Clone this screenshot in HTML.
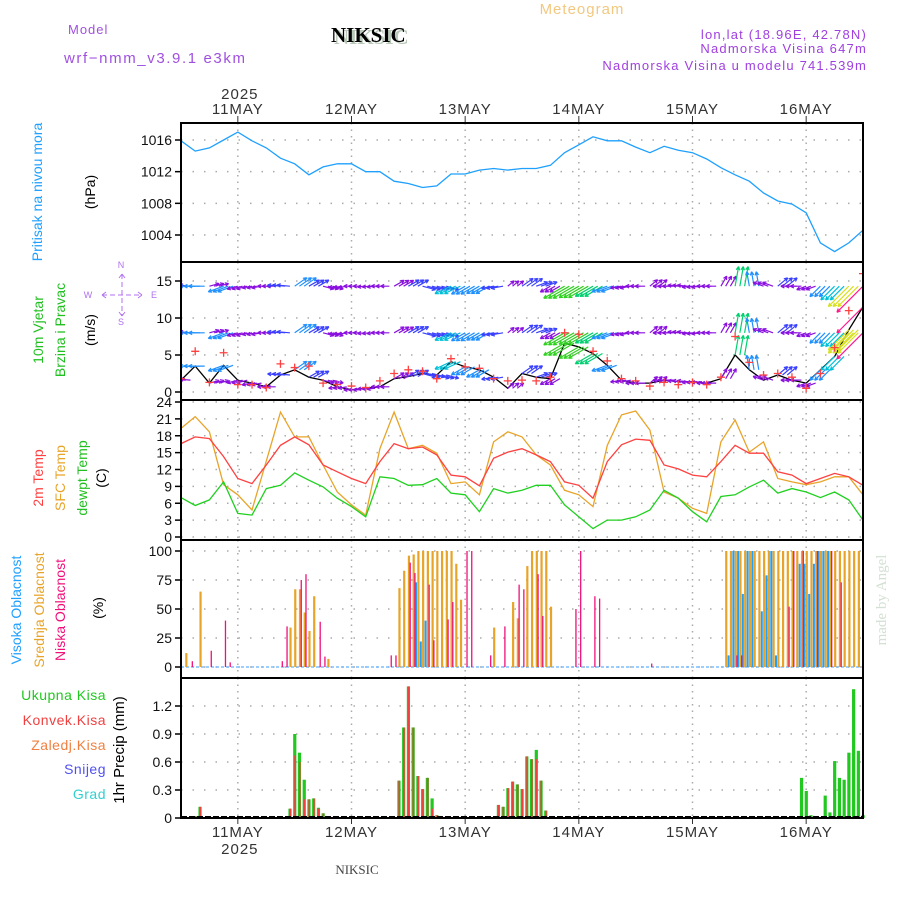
<!DOCTYPE html>
<html><head><meta charset="utf-8">
<style>
html,body{margin:0;padding:0;background:#fff;}
svg{display:block;font-family:"Liberation Sans",sans-serif;}
</style></head>
<body>
<svg id="chart" width="900" height="900" viewBox="0 0 900 900" xmlns="http://www.w3.org/2000/svg">
<rect x="0" y="0" width="900" height="900" fill="#fff"/>
<defs>
<clipPath id="clipWind"><rect x="181" y="263" width="682" height="136"/></clipPath>
</defs>
<text x="582" y="14" fill="#f2c880" font-size="15" text-anchor="middle" letter-spacing="1">Meteogram</text>
<text x="68" y="34" fill="#a050e0" font-size="13" letter-spacing="1">Model</text>
<text x="64" y="63" fill="#a050e0" font-size="15" letter-spacing="1.6">wrf−nmm_v3.9.1 e3km</text>
<text x="334" y="44" fill="#b8c8b8" font-size="21" font-weight="bold" font-family="Liberation Serif, serif">NIKSIC</text>
<text x="331" y="42" fill="#000" font-size="21" font-weight="bold" font-family="Liberation Serif, serif">NIKSIC</text>
<text x="867" y="39" fill="#a040e0" font-size="13" text-anchor="end" letter-spacing="1.2">lon,lat (18.96E, 42.78N)</text>
<text x="867" y="53" fill="#a040e0" font-size="13" text-anchor="end" letter-spacing="1.2">Nadmorska Visina 647m</text>
<text x="867" y="70" fill="#a040e0" font-size="13" text-anchor="end" letter-spacing="1.2">Nadmorska Visina u modelu 741.539m</text>
<text x="357" y="874" fill="#444" font-size="13" text-anchor="middle" font-family="Liberation Serif, serif">NIKSIC</text>
<text transform="translate(886,600) rotate(-90)" fill="#d4e0d4" font-size="15" text-anchor="middle" font-family="Liberation Serif, serif">made by Angel</text>
<g id="g"></g>
</svg>
<script>
// ---------- DATA ----------
const dayLabels = ["11MAY","12MAY","13MAY","14MAY","15MAY","16MAY"];
const dayHours = [12,36,60,84,108,132];
const pressure = [1015.9,1014.6,1015.0,1016.0,1017.0,1015.9,1015.0,1013.7,1013.0,1011.6,1012.6,1013.0,1013.0,1012.0,1012.0,1010.8,1010.5,1010.0,1010.2,1011.7,1011.7,1012.2,1012.4,1012.2,1012.4,1012.4,1012.8,1014.4,1015.4,1016.4,1015.9,1015.9,1015.1,1014.4,1015.2,1014.7,1014.4,1013.6,1012.5,1011.6,1010.8,1009.3,1008.3,1007.9,1006.8,1003.0,1001.9,1003.0,1004.6];
const temp2m = [16.6,17.8,17.5,14.3,10.4,9.5,12.8,16.3,17.8,16.4,12.8,11.6,10.4,9.5,13.4,16.6,15.7,16.0,14.6,11.0,10.7,9.1,14.0,15.1,15.7,14.6,13.4,9.8,9.2,6.9,13.4,16.4,17.4,17.2,12.8,12.1,11.0,10.7,13.4,16.3,14.9,14.9,11.6,11.0,9.5,10.4,11.3,10.7,9.2];
const tempSfc = [19.3,21.4,18.7,9.3,7.5,4.8,13.5,22.2,17.8,17.8,12.8,8.0,5.7,3.9,15.7,22.2,15.7,16.3,14.9,9.5,9.8,7.5,16.9,18.7,17.8,14.6,12.8,8.3,7.5,5.4,16.3,21.7,22.4,19.0,8.0,6.9,5.1,4.2,16.9,20.8,15.1,16.9,10.4,9.8,9.3,9.8,10.7,10.7,7.5];
const dewpt = [7.0,5.6,6.6,9.8,4.2,3.9,8.6,9.2,11.4,10.1,8.9,6.9,5.4,3.6,10.7,10.4,9.2,9.3,10.4,7.8,7.5,4.5,8.6,7.8,8.3,9.2,9.2,5.7,3.6,1.5,3.0,3.0,3.6,4.8,8.3,6.9,4.5,2.7,7.2,7.5,8.9,10.1,7.8,8.6,8.0,7.0,8.0,6.6,3.0];
const windSpeed = [1.6,3.5,1.2,3.6,1.6,1.2,0.7,2.3,3.0,2.0,1.6,0.7,0.3,0.5,0.7,1.8,2.1,2.5,2.3,4.1,3.4,3.0,2.0,0.5,2.5,2.0,1.8,6.6,6.1,5.2,3.6,1.6,1.2,1.2,1.6,1.4,1.4,1.2,1.8,5.0,3.0,1.6,2.3,1.6,1.2,3.0,4.8,8.4,11.5];
const windGust = [1.8,5.5,1.3,5.3,1.0,1.0,0.6,3.8,3.3,3.5,1.2,1.0,0.8,0.6,1.5,2.5,3.0,2.8,1.8,4.5,3.4,3.2,1.8,1.5,1.6,1.5,2.0,8.0,7.8,5.5,4.2,1.8,1.5,0.8,1.3,1.0,1.3,1.0,2.0,7.5,4.0,2.3,2.5,2.0,0.5,2.5,6.0,11.0,16.0];
const windDir = [175,180,15,200,195,190,180,175,35,30,-15,190,180,185,180,30,30,-15,-15,205,210,210,190,40,35,20,210,210,210,210,200,190,180,40,180,175,185,180,60,80,100,160,40,180,200,225,225,225,225];
const cloudHigh = [0,0,0,0,0,0,0,0,0,0,0,0, 0,0,0,0,0,0,0,0,0,0,0,0, 0,0,0,0,0,0,0,0,0,0,0,0, 0,0,0,0,0,0,0,0,0,0,0,0, 0,73,22,40,0,0,0,0,0,0,0,0, 0,0,0,0,0,0,0,0,0,0,0,0, 0,0,0,0,0,0,0,0,0,0,0,0, 0,0,0,0,0,0,0,0,0,0,0,0, 0,0,0,0,0,0,0,0,0,0,0,0, 0,0,0,0,0,0,0,10,100,100,63,100, 100,0,48,79,100,10,0,0,0,0,89,89, 63,89,100,100,100,0,0,0,0,0,0,0];
const cloudMid = [0,12,0,0,65,0,0,0,0,0,0,0, 0,0,0,0,0,0,0,0,0,0,0,34, 67,67,47,31,61,0,0,7,0,0,0,0, 0,0,0,0,0,0,0,0,0,0,68,83, 96,97,100,100,100,100,100,100,100,100,89,58, 0,0,0,0,0,0,34,0,0,0,56,42, 0,87,100,100,100,100,52,0,0,0,0,0, 0,0,0,0,0,0,0,0,0,0,0,0, 0,0,0,0,0,0,0,0,0,0,0,0, 0,0,0,0,0,0,0,100,100,100,100,100, 100,100,100,100,100,100,100,100,100,100,100,100, 100,100,100,100,100,100,100,100,100,100,100,100];
const cloudLow = [0,0,5,0,0,0,14,0,0,40,4,0, 0,0,0,0,0,0,0,0,0,5,35,0, 0,75,80,0,0,39,9,0,0,0,0,0, 0,0,0,0,0,0,0,0,10,10,0,0, 90,81,0,0,71,23,0,0,41,56,0,0, 100,100,0,0,0,10,0,0,35,0,0,71, 67,0,0,80,44,0,0,0,0,0,0,50, 100,0,0,61,59,0,0,0,0,0,0,0, 0,0,0,3,0,0,0,0,0,0,0,0, 0,0,0,0,0,0,0,0,0,10,10,0, 0,0,0,0,0,0,0,0,52,100,0,100, 0,0,100,0,0,100,0,73,0,0,0,0];
const precipTotal = [0,0,0,0.02,0.12,0,0,0,0,0,0,0, 0,0,0,0,0,0,0,0,0,0,0,0.1, 0.9,0.7,0.41,0.2,0.21,0.11,0.05,0,0,0,0,0, 0,0,0,0,0,0,0,0,0,0,0.4,0.97, 1.41,0.97,0.45,0.31,0.43,0.21,0.03,0,0,0,0,0, 0,0,0,0,0,0,0,0.14,0.12,0.32,0.39,0.36, 0.31,0.66,0.63,0.73,0.4,0.08,0,0,0,0,0,0, 0,0,0,0,0,0,0,0,0,0,0,0, 0,0,0,0,0,0,0,0,0,0,0,0, 0,0,0,0,0,0,0,0,0,0,0,0, 0,0,0,0,0,0,0,0,0,0,0.01,0.43, 0.29,0.03,0,0,0.24,0.06,0.61,0.43,0.41,0.7,1.38,0.72, 0.03];
const precipConv = [0,0.01,0,0.02,0.12,0,0,0,0,0,0,0, 0,0,0,0,0,0,0,0,0,0,0,0.1, 0.67,0.6,0.2,0.2,0.21,0.1,0.05,0,0,0,0,0, 0,0,0,0,0,0,0,0,0,0,0.4,0.97, 1.41,0.97,0.45,0.31,0.43,0.1,0.03,0,0,0,0,0, 0,0,0,0,0,0,0,0.14,0.12,0.32,0.39,0.36, 0.31,0.66,0.63,0.63,0.4,0.08,0,0,0,0,0,0, 0,0,0,0,0,0,0,0,0,0,0,0, 0,0,0,0,0,0,0,0,0,0,0,0, 0,0,0,0,0,0,0,0,0,0,0,0, 0,0,0,0,0,0,0,0,0,0,0,0, 0,0,0,0,0,0,0,0,0,0,0,0, 0];
const pTicks = [1004,1008,1012,1016];
const wTicks = [0,5,10,15];
const tTicks = [0,3,6,9,12,15,18,21,24];
const cTicks = [0,25,50,75,100];
const rTicks = [0,0.3,0.6,0.9,1.2];
const rTickLabels = ["0","0.3","0.6","0.9","1.2"];

// ---------- SCALES ----------
const NS="http://www.w3.org/2000/svg";
const G=document.getElementById('g');
const X0=181, X1=863, HOURS=144;
function xs(t){return X0+(X1-X0)*t/HOURS;}
function lin(d0,d1,r0,r1){return v=>r0+(v-d0)*(r1-r0)/(d1-d0);}
const yP=lin(1004,1016,235,140);
const yW=lin(0,15,392,281);
const yT=lin(0,24,537,402);
const yC=lin(0,100,667,551);
const yR=lin(0,1.2,818,706);
const panels=[[123,262],[262,400],[400,540],[540,678],[678,818]];

function el(tag,attrs,parent){const e=document.createElementNS(NS,tag);for(const k in attrs)e.setAttribute(k,attrs[k]);(parent||G).appendChild(e);return e;}
function txt(s,attrs,parent){const e=el('text',attrs,parent);e.textContent=s;return e;}

panels.forEach((p,i)=>{
  dayHours.forEach(h=>{
    const gl=el('line',{x1:xs(h),x2:xs(h),y1:p[0],y2:p[1],stroke:'#aaa','stroke-width':1.5,'stroke-dasharray':'1.5,5'});
    
    
  });
});
function hgrid(ticks,ys,labels,name){
  ticks.forEach((v,i)=>{
    const gl=el('line',{x1:X0,x2:X1,y1:ys(v),y2:ys(v),stroke:'#aaa','stroke-width':1.5,'stroke-dasharray':'1.5,10'});
    
    
    const tk=el('line',{x1:X0-6,x2:X0,y1:ys(v),y2:ys(v),stroke:'#000','stroke-width':1.5});
    
    
    const lb=txt(labels?labels[i]:String(v),{x:X0-9,y:ys(v)+5,'font-size':14,'text-anchor':'end',fill:'#111'});
    
    
  });
}
hgrid(pTicks,yP,null,'pressure');
hgrid(wTicks,yW,null,'wind');
hgrid(tTicks,yT,null,'temp');
hgrid(cTicks,yC,null,'cloud');
hgrid(rTicks,yR,rTickLabels,'precip');

dayLabels.forEach((d,i)=>{
  const a=txt(d,{x:xs(dayHours[i]),y:114,'font-size':15,'text-anchor':'middle',fill:'#333','letter-spacing':1});
  
  
  const b=txt(d,{x:xs(dayHours[i]),y:837,'font-size':15,'text-anchor':'middle',fill:'#333','letter-spacing':1});
  
  
  const tk=el('line',{x1:xs(dayHours[i]),x2:xs(dayHours[i]),y1:116,y2:123,stroke:'#333','stroke-width':1});
  
  
  const tk2=el('line',{x1:xs(dayHours[i]),x2:xs(dayHours[i]),y1:818,y2:824,stroke:'#333','stroke-width':1});
  
  
});
const y1=txt('2025',{x:xs(12)+2,y:99,'font-size':15,'text-anchor':'middle',fill:'#333','letter-spacing':1});


const y2=txt('2025',{x:xs(12)+2,y:854,'font-size':15,'text-anchor':'middle',fill:'#333','letter-spacing':1});



function path(vals,step,ys,color,name,parent){
  let d='';vals.forEach((v,i)=>{d+=(i?'L':'M')+xs(i*step).toFixed(1)+','+ys(v).toFixed(1);});
  const p=el('path',{d:d,fill:'none',stroke:color,'stroke-width':1.3},parent);
  
  
  return p;
}
path(pressure,3,yP,'#1ea0ff','pressure-line');
path(tempSfc,3,yT,'#e8a428','sfc-temp-line');
path(temp2m,3,yT,'#ff4040','temp-2m-line');
path(dewpt,3,yT,'#20d020','dewpoint-line');

// wind
const wg=el('g',{'clip-path':'url(#clipWind)'});


path(windSpeed,3,yW,'#000','wind-speed-line',wg);
function wcol(s){if(s<2)return '#8a10e0';if(s<3)return '#3a40ff';if(s<4)return '#1e90ff';if(s<5)return '#00c0d8';if(s<6)return '#00d070';if(s<7.5)return '#30d020';if(s<9)return '#d8e020';if(s<11)return '#ff9020';return '#ff1a8c';}
function arrow(bx,by,ang,L,col){
  const r=ang*Math.PI/180,tx=bx+L*Math.cos(r),ty=by-L*Math.sin(r);
  const h1=r+Math.PI-0.45,h2=r+Math.PI+0.45;
  const a=el('path',{d:`M${bx},${by}L${tx},${ty}M${tx},${ty}L${tx+4*Math.cos(h1)},${ty-4*Math.sin(h1)}M${tx},${ty}L${tx+4*Math.cos(h2)},${ty-4*Math.sin(h2)}`,stroke:col,'stroke-width':1.2,fill:'none'},wg);
  
  
}
windSpeed.forEach((s,i)=>{
  const reps=i<windSpeed.length-1?3:1;
  for(let k=0;k<reps;k++){
    const t=i*3+k,L=Math.min(40,7+2.6*s),c=wcol(s);
    arrow(xs(t),yW(14.3),windDir[i],L,c);
    arrow(xs(t),yW(8),windDir[i],L,c);
    arrow(xs(t),yW(s),windDir[i],L,c);
  }
});
windGust.forEach((g,i)=>{
  const x=xs(i*3),y=yW(g);
  const m=el('path',{d:`M${x-4},${y}H${x+4}M${x},${y-4}V${y+4}`,stroke:'#ff4040','stroke-width':1.3},wg);
  
  
});

// clouds
const bl=el('line',{x1:X0,x2:X1,y1:yC(0),y2:yC(0),stroke:'#60b0ff','stroke-width':1.2,'stroke-dasharray':'3,2'});


cloudMid.forEach((v,t)=>{ if(v>0){const r=el('rect',{x:xs(t)-0.5,y:yC(v),width:2.2,height:yC(0)-yC(v),fill:'#e8a428'});
  
  }});
cloudHigh.forEach((v,t)=>{ if(v>0){const r=el('rect',{x:xs(t)+2,y:yC(v),width:2,height:yC(0)-yC(v),fill:'#1ea0ff'});
  
  }});
cloudLow.forEach((v,t)=>{ if(v>0){const r=el('rect',{x:xs(t)+1.2,y:yC(v),width:1.3,height:yC(0)-yC(v),fill:'#f0107a'});
  
  }});

// precip
precipTotal.forEach((v,t)=>{ if(v>0){const r=el('rect',{x:xs(t)-1.5,y:yR(v),width:3.2,height:yR(0)-yR(v),fill:'#20c820'});
  
  }});
precipConv.forEach((v,t)=>{ if(v>0){const r=el('rect',{x:xs(t)-0.5,y:yR(v),width:1.6,height:yR(0)-yR(v),fill:'#f04040'});
  
  }});
const pb=el('line',{x1:X0,x2:X1,y1:817,y2:817,stroke:'#000','stroke-width':2,'stroke-dasharray':'6,2'});



panels.forEach((p,i)=>{
  const r=el('rect',{x:X0,y:p[0],width:X1-X0,height:p[1]-p[0],fill:'none',stroke:'#000','stroke-width':2});
  
  
});

function rlab(s,x,y,col,size,name){const t=txt(s,{transform:`translate(${x},${y}) rotate(-90)`,fill:col,'font-size':size||14,'text-anchor':'middle'});
  
  }
rlab('Pritisak na nivou mora',42,192,'#1ea0ff',14,'pressure-title');
rlab('(hPa)',95,192,'#000',14,'pressure-unit');
rlab('10m Vjetar',43,330,'#20c020',14,'wind-title-1');
rlab('Brzina i Pravac',65,330,'#20c020',14,'wind-title-2');
rlab('(m/s)',95,330,'#000',14,'wind-unit');
rlab('2m Temp',43,478,'#ff4040',14,'temp-2m-title');
rlab('SFC Temp',65,478,'#e8a428',14,'sfc-temp-title');
rlab('dewpt Temp',87,478,'#20c020',14,'dewpt-title');
rlab('(C)',106,478,'#000',14,'temp-unit');
rlab('Visoka Oblacnost',21,610,'#1ea0ff',14,'high-cloud-title');
rlab('Srednja Oblacnost',44,610,'#e8a428',14,'mid-cloud-title');
rlab('Niska Oblacnost',65,610,'#f0107a',14,'low-cloud-title');
rlab('(%)',103,608,'#000',14,'cloud-unit');
rlab('1hr Precip (mm)',124,750,'#000',15,'precip-unit');
const cp=txt('N',{x:121,y:268,'font-size':9,fill:'#b070f0','text-anchor':'middle'});
const cs=txt('S',{x:121,y:325,'font-size':9,fill:'#b070f0','text-anchor':'middle'});
const cw=txt('W',{x:88,y:298,'font-size':9,fill:'#b070f0','text-anchor':'middle'});
const ce=txt('E',{x:154,y:298,'font-size':9,fill:'#b070f0','text-anchor':'middle'});
const cc=el('path',{d:'M102,295H142M102,295l4,-3M102,295l4,3M142,295l-4,-3M142,295l-4,3M122,274V316M122,274l-3,4M122,274l3,4M122,316l-3,-4M122,316l3,-4',stroke:'#b070f0','stroke-width':1,fill:'none','stroke-dasharray':'5,3'});


const leg=[['Ukupna  Kisa','#20c820',700],['Konvek.Kisa','#f04040',725],['Zaledj.Kisa','#f08040',750],['Snijeg','#5050f0',774],['Grad','#30d0d0',799]];
leg.forEach(l=>{const t=txt(l[0],{x:106,y:l[2],fill:l[1],'font-size':14,'text-anchor':'end','letter-spacing':0.5});
  
  });
</script>
</body></html>
